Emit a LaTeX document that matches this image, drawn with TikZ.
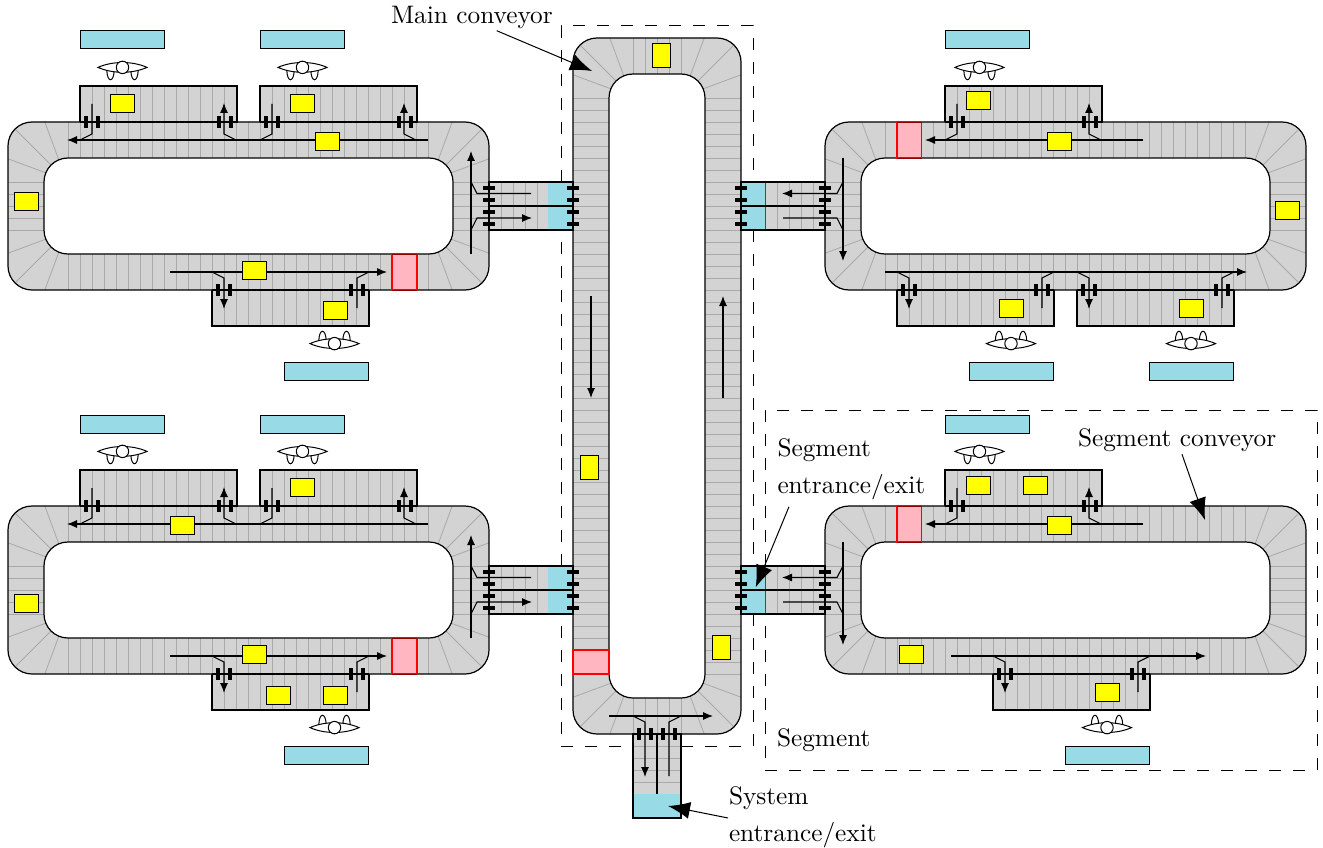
\documentclass[tikz,border=0pt]{standalone}
\usetikzlibrary{arrows.meta}
\definecolor{belt}{HTML}{D3D3D3}
\definecolor{tickc}{HTML}{A9A9A9}
\definecolor{portblue}{RGB}{152,219,230}
\definecolor{failpink}{HTML}{FFB6C1}
\definecolor{unity}{RGB}{255,255,0}
\definecolor{redmark}{RGB}{255,0,0}
\tikzset{
  beltfill/.style={fill=belt},
  outline/.style={draw=black,line width=1.2pt},
  tick/.style={draw=tickc,line width=.8pt},
  track/.style={draw=black,line width=1.1pt},
  arr/.style={track,-{Latex[length=10pt,width=8pt]}},
  bar/.style={draw=black,line width=3.4pt},
  wshort/.style={rectangle,draw=black,fill=unity,line width=.9pt,minimum width=24pt,minimum height=18pt,inner sep=0pt},
  wtall/.style={rectangle,draw=black,fill=unity,line width=.9pt,minimum width=18pt,minimum height=24pt,inner sep=0pt},
  desk/.style={draw=black,fill=portblue,line width=1pt},
  bad/.style={draw=redmark,fill=failpink,line width=1.1pt},
  badedge/.style={draw=redmark!55!black,line width=.9pt},
  bound/.style={draw=black,line width=1pt,dash pattern=on 12pt off 12pt},
  lbl/.style={scale=2.53,anchor=base west,inner sep=0pt,outer sep=0pt,align=left},
  callout/.style={draw=black,line width=1pt,-{Latex[length=22pt,width=17pt]}},
  person/.style={draw=black,fill=white,line width=1pt},
}
% corner fan: #1,#2 corner, #3,#4 inward signs
\newcommand{\cornerfan}[4]{%
  \begin{scope}[shift={(#1,#2)},xscale=#3,yscale=#4]
    \draw[tick] (50.8,37.8) -- (36.8,0);
    \draw[tick] (43,43) -- (7,7);
    \draw[tick] (37.8,50.8) -- (0,36.8);
  \end{scope}}
% operator: #1,#2 centre, #3 = 1 feet down, -1 feet up
\newcommand{\worker}[3]{%
  \begin{scope}[shift={(#1,#2)},yscale=#3]
    \draw[person] (-15.7,3) .. controls (-15.2,15.5) and (-8.8,15.5) .. (-8.3,3);
    \draw[person] (8.3,3) .. controls (8.8,15.5) and (15.2,15.5) .. (15.7,3);
    \draw[person] (-24.5,0) .. controls (-10,-6.5) and (10,-6.5) .. (24.5,0) .. controls (10,6.5) and (-10,6.5) .. cycle;
    \draw[person] (0,0) circle (6.2);
  \end{scope}}
% top station: #1 left x, #2 operator offset
\newcommand{\topstation}[2]{%
  \draw[beltfill] (#1,86) rectangle (#1+157,122);
  \foreach \t in {12,24,...,144} \draw[tick] (#1+\t,86) -- (#1+\t,122);
  \draw[outline] (#1,122) -- (#1,86) -- (#1+157,86) -- (#1+157,122);
  \draw[track] (#1,122) -- (#1+157,122);
  \draw[track] (#1+12,104) -- (#1+12,134) -- (#1,140);
  \draw[arr] (#1+156,140) -- (#1+144,134) -- (#1+144,103);
  \foreach \b in {6,18,139,151} \draw[bar] (#1+\b,116) -- (#1+\b,128);
  \draw[desk] (#1,31) rectangle (#1+84.5,49);
  \worker{#1+#2}{67.4}{1}}
% bottom station: #1 left x, #2 operator offset
\newcommand{\botstation}[2]{%
  \draw[beltfill] (#1,290) rectangle (#1+157,326);
  \foreach \t in {12,24,...,144} \draw[tick] (#1+\t,290) -- (#1+\t,326);
  \draw[outline] (#1,290) -- (#1,326) -- (#1+157,326) -- (#1+157,290);
  \draw[track] (#1,290) -- (#1+157,290);
  \draw[arr] (#1,272) -- (#1+12,278) -- (#1+12,309);
  \draw[track] (#1+157,272) -- (#1+145,278) -- (#1+145,308);
  \foreach \b in {6,18,139,151} \draw[bar] (#1+\b,284) -- (#1+\b,296);
  \draw[desk] (#1+72,362) rectangle (#1+156.5,380);
  \worker{#1+#2}{343.6}{-1}}
% ring, drawn in the coordinates of the top-left one
\newcommand{\ringbody}{%
  \fill[belt,rounded corners=24pt] (8,122) rectangle (489,290);
  \foreach \t in {68,80,...,428} {\draw[tick] (\t,122) -- (\t,158); \draw[tick] (\t,254) -- (\t,290);}
  \foreach \t in {182,194,...,230} {\draw[tick] (8,\t) -- (44,\t); \draw[tick] (453,\t) -- (489,\t);}
  \cornerfan{8}{122}{1}{1}\cornerfan{489}{122}{-1}{1}\cornerfan{8}{290}{1}{-1}\cornerfan{489}{290}{-1}{-1}
  \draw[outline,rounded corners=24pt] (8,122) rectangle (489,290);
  \draw[outline,fill=white,rounded corners=24pt] (44,158) rectangle (453,254);}
% left stub and its lines
\newcommand{\stubleft}{%
  \fill[belt] (489,182) rectangle (548,230);
  \foreach \t in {501,513,525,537} \draw[tick] (\t,182) -- (\t,230);
  \fill[portblue] (548,182) rectangle (573,230);
  \draw[outline] (489,182) rectangle (573,230);
  \draw[track] (489,206) -- (573,206);
  \draw[arr] (471,254) -- (471,151);
  \draw[track] (471,182) -- (477,193.5) -- (531,193.5);
  \draw[arr] (471,230) -- (477,218) -- (532,218);
  \foreach \y in {188,200,212,224} {\draw[bar] (483,\y) -- (495,\y); \draw[bar] (567,\y) -- (579,\y);}}
\newcommand{\stubright}{%
  \fill[belt] (765,182) rectangle (825,230);
  \foreach \t in {777,789,801,813} \draw[tick] (\t,182) -- (\t,230);
  \fill[portblue] (741,182) rectangle (765,230);
  \draw[draw=black!70,line width=.9pt] (765,182) -- (765,230);
  \draw[outline] (741,182) rectangle (825,230);
  \draw[track] (741,206) -- (825,206);
  \draw[arr] (843,158) -- (843,261);
  \draw[arr] (843,182) -- (837,193.5) -- (782,193.5);
  \draw[track] (843,230) -- (837,218) -- (783,218);
  \foreach \y in {188,200,212,224} {\draw[bar] (735,\y) -- (747,\y); \draw[bar] (819,\y) -- (831,\y);}}
\newcommand{\leftsegment}{%
  \ringbody
  \draw[bad] (392,254) rectangle (417,290);
  \draw[badedge] (392,254) -- (417,254) (392,290) -- (417,290);
  \stubleft
  \draw[arr] (428,140) -- (67,140);
  \draw[arr] (170,272) -- (387,272);
  \topstation{80}{42.5}
  \topstation{260}{42.5}
  \botstation{212}{122.5}}
\newcommand{\rightcommon}{%
  \begin{scope}[shift={(817,0)}]\ringbody\end{scope}
  \draw[bad] (897,122) rectangle (921.5,158);
  \draw[badedge] (897,122) -- (921.5,122) (897,158) -- (921.5,158);
  \stubright
  \draw[arr] (1143,140) -- (925,140);
  \topstation{945}{34.5}}
\begin{document}
\begin{tikzpicture}[x=1pt,y=-1pt]
\useasboundingbox (0,0) rectangle (1323,848);
% boundaries
\draw[bound] (753,746) -- (753,26) -- (561,26) -- (561,746) -- cycle;
\draw[bound] (1317,770) -- (1317,410) -- (765,410) -- (765,770) -- cycle;
% main conveyor
\fill[belt,rounded corners=24pt] (573,38) rectangle (741,734);
\foreach \t in {98,110,...,674} {\draw[tick] (573,\t) -- (609,\t); \draw[tick] (705,\t) -- (741,\t);}
\foreach \t in {633,645,...,681} {\draw[tick] (\t,38) -- (\t,74); \draw[tick] (\t,698) -- (\t,734);}
\cornerfan{573}{38}{1}{1}\cornerfan{741}{38}{-1}{1}\cornerfan{573}{734}{1}{-1}\cornerfan{741}{734}{-1}{-1}
\draw[outline,rounded corners=24pt] (573,38) rectangle (741,734);
\draw[outline,fill=white,rounded corners=24pt] (609,74) rectangle (705,698);
\draw[bad] (573,650) rectangle (609,674);
\draw[arr] (591,296) -- (591,398);
\draw[arr] (723,398) -- (723,296);
% system stub
\fill[belt] (633,734) rectangle (681,794);
\foreach \t in {746,758,770,782} \draw[tick] (633,\t) -- (681,\t);
\fill[portblue] (633,794) rectangle (681,818);
\draw[outline] (633,734) rectangle (681,818);
\draw[track] (657,734) -- (657,794);
\draw[arr] (609,716) -- (713,716);
\draw[arr] (633,716) -- (645,722) -- (645,777);
\draw[track] (681,716) -- (669,722) -- (669,776);
\foreach \t in {639,651,663,675} \draw[bar] (\t,728) -- (\t,740);
% segments
\leftsegment
\begin{scope}[shift={(0,384)}]\leftsegment\end{scope}
\rightcommon
\draw[arr] (885,272) -- (1247,272);
\botstation{897}{114}
\botstation{1077}{114}
\begin{scope}[shift={(0,384)}]
  \rightcommon
  \draw[arr] (951,272) -- (1206,272);
  \botstation{993}{114}
\end{scope}
% transport units
\foreach \x/\y [count=\i] in {122.5/103.5,302.5/103.5,327/141,26/201,254.5/270.3,335.5/310.5,
  978.5/100,1059/141,1287.7/210,1011/308,1191/308,
  182/525,302.5/487.5,26/603.5,254.5/654.3,278.5/695,335.5/695,
  978.5/485,1035/485,1059/525,911.5/654,1107/692}
  \node[wshort] (unit\i) at (\x,\y) {};
\foreach \x/\y [count=\i] in {661/55,589/467,721/647}
  \node[wtall] (mainunit\i) at (\x,\y) {};
% labels
\node[lbl] (lmain) at (391,23.5) {Main conveyor};
\node[lbl] (lsegc) at (1078,446) {Segment conveyor};
\node[lbl] (lent) at (777.5,493) {Segment\\[2.3pt]entrance/exit};
\node[lbl] (lseg) at (777,746) {Segment};
\node[lbl] (lsys) at (729,841) {System\\[2.3pt]entrance/exit};
\coordinate (fmain) at (496.7,30.7); \coordinate (tmain) at (592,71);
\coordinate (fsegc) at (1182,454.3); \coordinate (tsegc) at (1205,520);
\coordinate (fent) at (789,506.7); \coordinate (tent) at (755.7,587.3);
\coordinate (fsys) at (728,818); \coordinate (tsys) at (668,806);
\draw[callout] (fmain) -- (tmain);
\draw[callout] (fsegc) -- (tsegc);
\draw[callout] (fent) -- (tent);
\draw[callout] (fsys) -- (tsys);
\end{tikzpicture}
\end{document}
